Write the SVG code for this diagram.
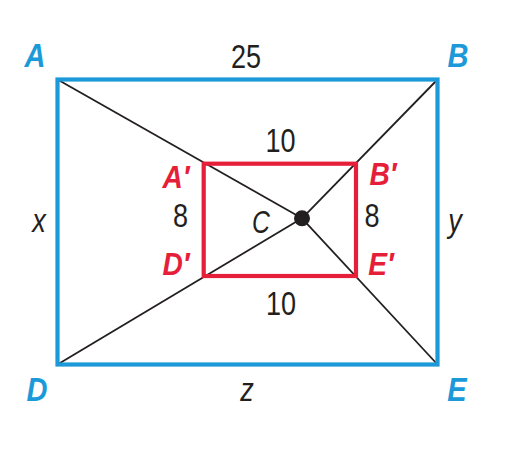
<svg xmlns="http://www.w3.org/2000/svg" width="507" height="462" viewBox="0 0 507 462">
<style>
text{font-family:"Liberation Sans",Arial,sans-serif;text-anchor:middle}
.bl{fill:#1b99d8;font-weight:bold;font-style:italic;font-size:33px}
.rd{fill:#e51f3a;font-weight:bold;font-style:italic;font-size:32px}
.num{fill:#231f20;font-size:33px}
.var{fill:#231f20;font-style:italic;font-size:34px}
.ln{stroke:#231f20;stroke-width:1.8;fill:none}
</style>
<g id="connectors">
<line class="ln" x1="57.5" y1="79.5" x2="302" y2="218.3"/>
<line class="ln" x1="57.5" y1="364.5" x2="302" y2="218.3"/>
<line class="ln" x1="437.5" y1="79.5" x2="302" y2="218.3"/>
<line class="ln" x1="437.5" y1="364.5" x2="302" y2="218.3"/>
</g>
<g id="outer">
<rect x="57.5" y="79.5" width="380" height="285" fill="none" stroke="#1b99d8" stroke-width="4.2"/>
<text class="num" transform="translate(246 67.5) scale(0.82 1)">25</text>
<text class="var" transform="translate(39 232) scale(0.8 1)">x</text>
<text class="var" transform="translate(455 232) scale(0.8 1)">y</text>
<text class="var" transform="translate(247 401) scale(0.8 1)">z</text>
</g>
<g id="inner">
<rect x="203.7" y="163.7" width="152.3" height="112.3" fill="none" stroke="#e51f3a" stroke-width="4.2"/>
<text class="num" transform="translate(280.5 151.5) scale(0.82 1)">10</text>
<text class="num" transform="translate(281 315) scale(0.82 1)">10</text>
<text class="num" transform="translate(180.5 227) scale(0.82 1)">8</text>
<text class="num" transform="translate(372 227) scale(0.82 1)">8</text>
</g>
<g id="A"><text class="bl" transform="translate(35 67) scale(0.88 1)">A</text></g>
<g id="B"><text class="bl" transform="translate(458 67) scale(0.88 1)">B</text></g>
<g id="D"><text class="bl" transform="translate(37 401) scale(0.88 1)">D</text></g>
<g id="E"><text class="bl" transform="translate(457 401) scale(0.88 1)">E</text></g>
<g id="A1"><text class="rd" transform="translate(176 188) scale(0.88 1)">A′</text></g>
<g id="D1"><text class="rd" transform="translate(176 275) scale(0.88 1)">D′</text></g>
<g id="B1"><text class="rd" transform="translate(383 185) scale(0.88 1)">B′</text></g>
<g id="E1"><text class="rd" transform="translate(381 275) scale(0.88 1)">E′</text></g>
<g id="C">
<circle cx="302" cy="218.3" r="8" fill="#231f20"/>
<text class="var" transform="translate(261 233) scale(0.8 1)" style="font-size:31px">C</text>
</g>
</svg>
